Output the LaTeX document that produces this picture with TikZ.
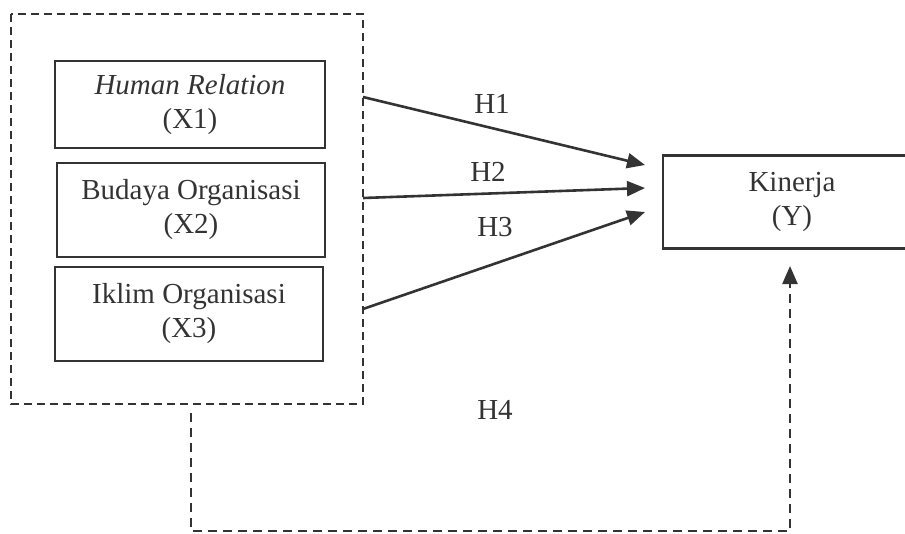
\documentclass[tikz,border=0pt]{standalone}
\usepackage{fontspec}
\setmainfont{Liberation Serif}
\usetikzlibrary{arrows.meta}
\definecolor{ink}{HTML}{333333}
\tikzset{
  varbox/.style={draw=ink, line width=2.6pt, text=ink, align=center, inner sep=0pt,
    font=\fontsize{29}{34}\selectfont},
  hlabel/.style={text=ink, inner sep=0pt, font=\fontsize{29}{34}\selectfont},
  solidarrow/.style={draw=ink, line width=2.6pt, -{Triangle[length=18pt,width=15pt]}},
  dashbox/.style={draw=ink, line width=2pt, dash pattern=on 8pt off 5pt},
  dasharrow/.style={draw=ink, line width=2.4pt, dash pattern=on 9pt off 6pt,
    -{Triangle[length=18pt,width=15pt]}},
}
\begin{document}
\begin{tikzpicture}[x=1pt,y=-1pt]
\clip (0,0) rectangle (905,533);
\useasboundingbox (0,0) rectangle (905,533);

% outer dashed group
\draw[dashbox] (11,14) rectangle (363,404);

% variable boxes
\node[varbox, minimum width=270pt, minimum height=87pt] (x1) at (190,104.5) {\textit{Human Relation}\\(X1)};
\node[varbox, minimum width=268pt, minimum height=94pt] (x2) at (191,210) {Budaya Organisasi\\(X2)};
\node[varbox, minimum width=268pt, minimum height=94pt] (x3) at (189,314) {Iklim Organisasi\\(X3)};
\node[varbox, minimum width=258pt, minimum height=93pt, text width=258pt] (y) at (792,202) {Kinerja\\(Y)};

% connector end points
\coordinate (s1) at (363,97);
\coordinate (s2) at (363,198);
\coordinate (s3) at (363,309);
\coordinate (t1) at (645,165);
\coordinate (t2) at (645,188);
\coordinate (t3) at (645,212);
\coordinate (d0) at (191,413);
\coordinate (d1) at (191,531);
\coordinate (d2) at (790,531);
\coordinate (d3) at (790,266);

\draw[solidarrow] (s1) -- (t1);
\draw[solidarrow] (s2) -- (t2);
\draw[solidarrow] (s3) -- (t3);
\draw[dasharrow] (d0) -- (d1) -- (d2) -- (d3);

% labels
\node[hlabel] (h1) at (492,104) {H1};
\node[hlabel] (h2) at (488,172) {H2};
\node[hlabel] (h3) at (495,227) {H3};
\node[hlabel] (h4) at (495,410) {H4};
\end{tikzpicture}
\end{document}
